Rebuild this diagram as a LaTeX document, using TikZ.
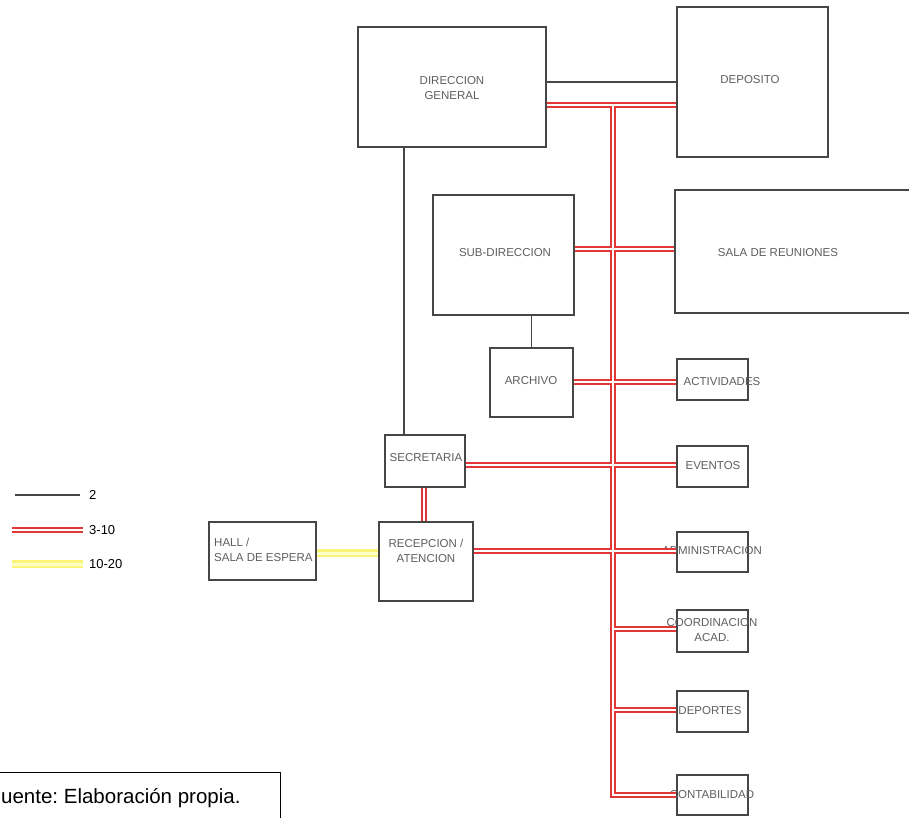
\documentclass[tikz,border=0pt]{standalone}
\usepackage{fontspec}
\setmainfont{Liberation Sans}
\definecolor{boxgray}{RGB}{70,70,70}
\definecolor{labgray}{RGB}{95,95,95}
\definecolor{redl}{RGB}{225,55,55}
\definecolor{yelo}{RGB}{250,245,120}
\definecolor{yeli}{RGB}{255,255,200}
\tikzset{
  room/.style={draw=boxgray, line width=1.1pt, inner sep=0pt, fill=none},
  lab/.style={text=labgray, inner sep=0pt, align=center, font=\fontsize{11.5}{14.5}\selectfont},
  blk/.style={draw=boxgray, line width=1.1pt},
  redout/.style={draw=redl, line width=5.6pt},
  redin/.style={draw=white, line width=2.6pt},
  yelout/.style={draw=yelo, line width=8pt},
  yelin/.style={draw=yeli, line width=3pt},
  legtext/.style={inner sep=0pt, anchor=west, font=\fontsize{13}{15}\selectfont}
}
\newcommand\RedNet[1]{%
  \draw[#1] (dg.east |- busTop) -- (dep.west |- busTop);
  \draw[#1] (busTop) -- (busBot) -- (cont.west |- busBot);
  \draw[#1] (sub.east |- jSala) -- (sala.west |- jSala);
  \draw[#1] (arc.east |- jAct) -- (act.west |- jAct);
  \draw[#1] (sec.east |- jEve) -- (eve.west |- jEve);
  \draw[#1] (rec.east |- jAdm) -- (adm.west |- jAdm);
  \draw[#1] (jCoo) -- (coo.west |- jCoo);
  \draw[#1] (jDep) -- (depo.west |- jDep);
  \draw[#1] (sec.south -| xsr) -- (rec.north -| xsr);
  \draw[#1] (lg2a) -- (lg2b);
}
\frenchspacing
\begin{document}
\begin{tikzpicture}[x=1pt,y=-1pt]
\useasboundingbox (0,0) rectangle (909,817);
\clip (0,0) rectangle (909,817);
\fill[white] (0,0) rectangle (909,817);

% rooms
\node[room, minimum width=188pt, minimum height=120pt] (dg) at (452,87) {};
\node[room, minimum width=151pt, minimum height=150pt] (dep) at (752.5,82) {};
\node[room, minimum width=240pt, minimum height=123pt] (sala) at (795,251.5) {};
\node[room, minimum width=141pt, minimum height=120pt] (sub) at (503.5,255) {};
\node[room, minimum width=83pt, minimum height=69pt] (arc) at (531.5,382.5) {};
\node[room, minimum width=71pt, minimum height=41pt] (act) at (712.5,379.5) {};
\node[room, minimum width=71pt, minimum height=41pt] (eve) at (712.5,466.5) {};
\node[room, minimum width=80pt, minimum height=52pt] (sec) at (425,461) {};
\node[room, minimum width=94pt, minimum height=79pt] (rec) at (426,561.5) {};
\node[room, minimum width=107pt, minimum height=58pt] (hall) at (262.5,551) {};
\node[room, minimum width=71pt, minimum height=40pt] (adm) at (712.5,552) {};
\node[room, minimum width=71pt, minimum height=42pt] (coo) at (712.5,631) {};
\node[room, minimum width=71pt, minimum height=41pt] (depo) at (712.5,711.5) {};
\node[room, minimum width=71pt, minimum height=40pt] (cont) at (712.5,795) {};

% labels
\node[lab] (dgL) at (452,88) {DIRECCION\\GENERAL};
\node[lab] (depL) at (750,80) {DEPOSITO};
\node[lab] (salaL) at (778,253) {SALA DE REUNIONES};
\node[lab] (subL) at (505,253) {SUB-DIRECCION};
\node[lab] (arcL) at (531,381) {ARCHIVO};
\node[lab] (actL) at (722,382) {ACTIVIDADES};
\node[lab] (eveL) at (713,466) {EVENTOS};
\node[lab] (secL) at (426,458) {SECRETARIA};
\node[lab] (recL) at (426,551) {RECEPCION /\\ATENCION};
\node[lab, align=left, anchor=west] (hallL) at (214,550) {HALL /\\SALA DE ESPERA};
\node[lab] (admL) at (712,551) {ADMINISTRACION};
\node[lab] (cooL) at (712,630) {COORDINACION\\ACAD.};
\node[lab] (depoL) at (710,711) {DEPORTES};
\node[lab] (contL) at (712,795) {CONTABILIDAD};

% junction coordinates
\coordinate (busTop) at (613,105);
\coordinate (busBot) at (613,795);
\coordinate (jSala) at (613,249);
\coordinate (jAct) at (613,382);
\coordinate (jEve) at (613,465);
\coordinate (jAdm) at (613,551);
\coordinate (jCoo) at (613,629);
\coordinate (jDep) at (613,710);
\coordinate (xsr) at (424,500);
\coordinate (jBlk) at (600,82);
\coordinate (xds) at (404,300);
\coordinate (jY) at (340,553);

% legend coordinates
\coordinate (lg1a) at (15,495);
\coordinate (lg1b) at (80,495);
\coordinate (lg2a) at (12,530);
\coordinate (lg2b) at (83,530);
\coordinate (lg3a) at (12,564);
\coordinate (lg3b) at (83,564);

% black connectors
\draw[blk] (dg.east |- jBlk) -- (dep.west |- jBlk);
\draw[blk] (dg.south -| xds) -- (sec.north -| xds);
\draw[blk] (sub.south -| arc.north) -- (arc.north);
\draw[blk] (lg1a) -- (lg1b);

% red double connectors
\RedNet{redout}
\RedNet{redin}

% yellow connector
\draw[yelout] (hall.east |- jY) -- (rec.west |- jY);
\draw[yelin] (hall.east |- jY) -- (rec.west |- jY);
\draw[yelout] (lg3a) -- (lg3b);
\draw[yelin] (lg3a) -- (lg3b);

% legend text
\node[legtext] (lg1t) at (89,495) {2};
\node[legtext] (lg2t) at (89,530) {3-10};
\node[legtext] (lg3t) at (89,564) {10-20};

% source note
\node[draw=black, line width=0.8pt, minimum width=320pt, minimum height=60pt, inner sep=0pt] (srcbox) at (120,802) {};
\node[inner sep=0pt, anchor=base west, font=\fontsize{20.5}{22}\selectfont] (srcL) at (1,803) {uente: Elaboración propia.};
\end{tikzpicture}
\end{document}
